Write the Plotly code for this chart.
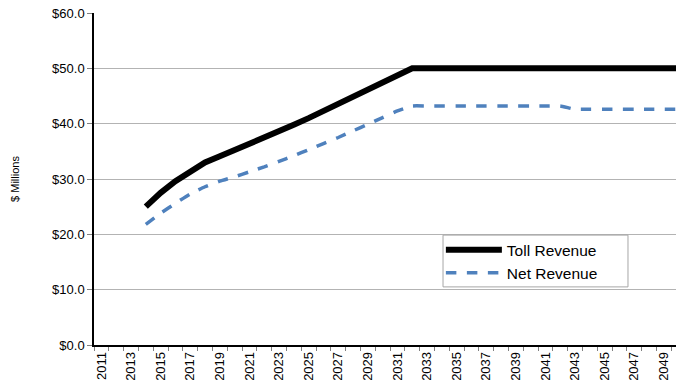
import plotly.graph_objects as go

# Annual revenue forecast, $ millions
years = list(range(2014, 2051))
toll_revenue = [25.0, 27.5, 29.6, 31.4, 33.0, 34.1, 35.2, 36.3, 37.4, 38.6, 39.8, 41.0,
                42.3, 43.6, 44.9, 46.2, 47.5, 48.8, 50.0] + [50.0] * 18
net_revenue = [21.8, 23.8, 25.6, 27.3, 28.6, 29.6, 30.4, 31.3, 32.2, 33.2, 34.2, 35.3,
               36.4, 37.5, 38.7, 39.9, 41.1, 42.3, 43.2, 43.2, 43.2, 43.2, 43.2, 43.2,
               43.2, 43.2, 43.2, 43.2, 43.2, 42.6, 42.6, 42.6, 42.6, 42.6, 42.6, 42.6, 42.6]

tick_years = list(range(2011, 2050, 2))
y_ticks = [0, 10, 20, 30, 40, 50, 60]

fig = go.Figure()
fig.add_trace(go.Scatter(
    x=years, y=toll_revenue, name="Toll Revenue", mode="lines",
    line=dict(color="#000000", width=6, shape="linear"),
))
fig.add_trace(go.Scatter(
    x=years, y=net_revenue, name="Net Revenue", mode="lines",
    line=dict(color="#4F81BD", width=3.5, dash="dash", shape="spline", smoothing=0.4),
))

# Framed white panel behind the legend entries
fig.add_shape(
    type="rect", xref="paper", yref="paper",
    x0=0.5997, x1=0.9175, y0=0.175, y1=0.331,
    line=dict(color="#A6A6A6", width=1), fillcolor="white", layer="above",
)

font = "Liberation Sans, Arial, sans-serif"
fig.update_layout(
    width=676, height=390,
    margin=dict(l=94, r=0, t=13, b=45),
    paper_bgcolor="white", plot_bgcolor="white",
    font=dict(family=font, size=13, color="#000000"),
    showlegend=True,
    legend=dict(
        x=0.596, y=0.337, xanchor="left", yanchor="top",
        borderwidth=0, bgcolor="rgba(0,0,0,0)",
        font=dict(family=font, size=15.5, color="#000000"),
        itemwidth=56,
    ),
    xaxis=dict(
        range=[2010.5, 2049.82],
        tickmode="array", tickvals=tick_years, ticktext=[str(y) for y in tick_years],
        tickangle=-90, ticks="", showgrid=False,
        showline=True, linecolor="#000000", linewidth=1.5,
        tickfont=dict(size=13),
        minor=dict(tickmode="array", tickvals=[y + 0.5 for y in range(2010, 2050)],
                   ticks="outside", ticklen=4, tickcolor="#808080", showgrid=False),
        zeroline=False,
    ),
    yaxis=dict(
        range=[0, 60],
        tickmode="array", tickvals=y_ticks, ticktext=[f"${v:.1f}" for v in y_ticks],
        ticks="outside", ticklen=5, tickcolor="#808080",
        showgrid=True, gridcolor="#B3B3B3", gridwidth=1,
        showline=True, linecolor="#000000", linewidth=1.5,
        zeroline=False,
        title=dict(text="$ Millions", font=dict(size=11), standoff=30),
        tickfont=dict(size=13),
    ),
)

fig.write_html("out.html")
